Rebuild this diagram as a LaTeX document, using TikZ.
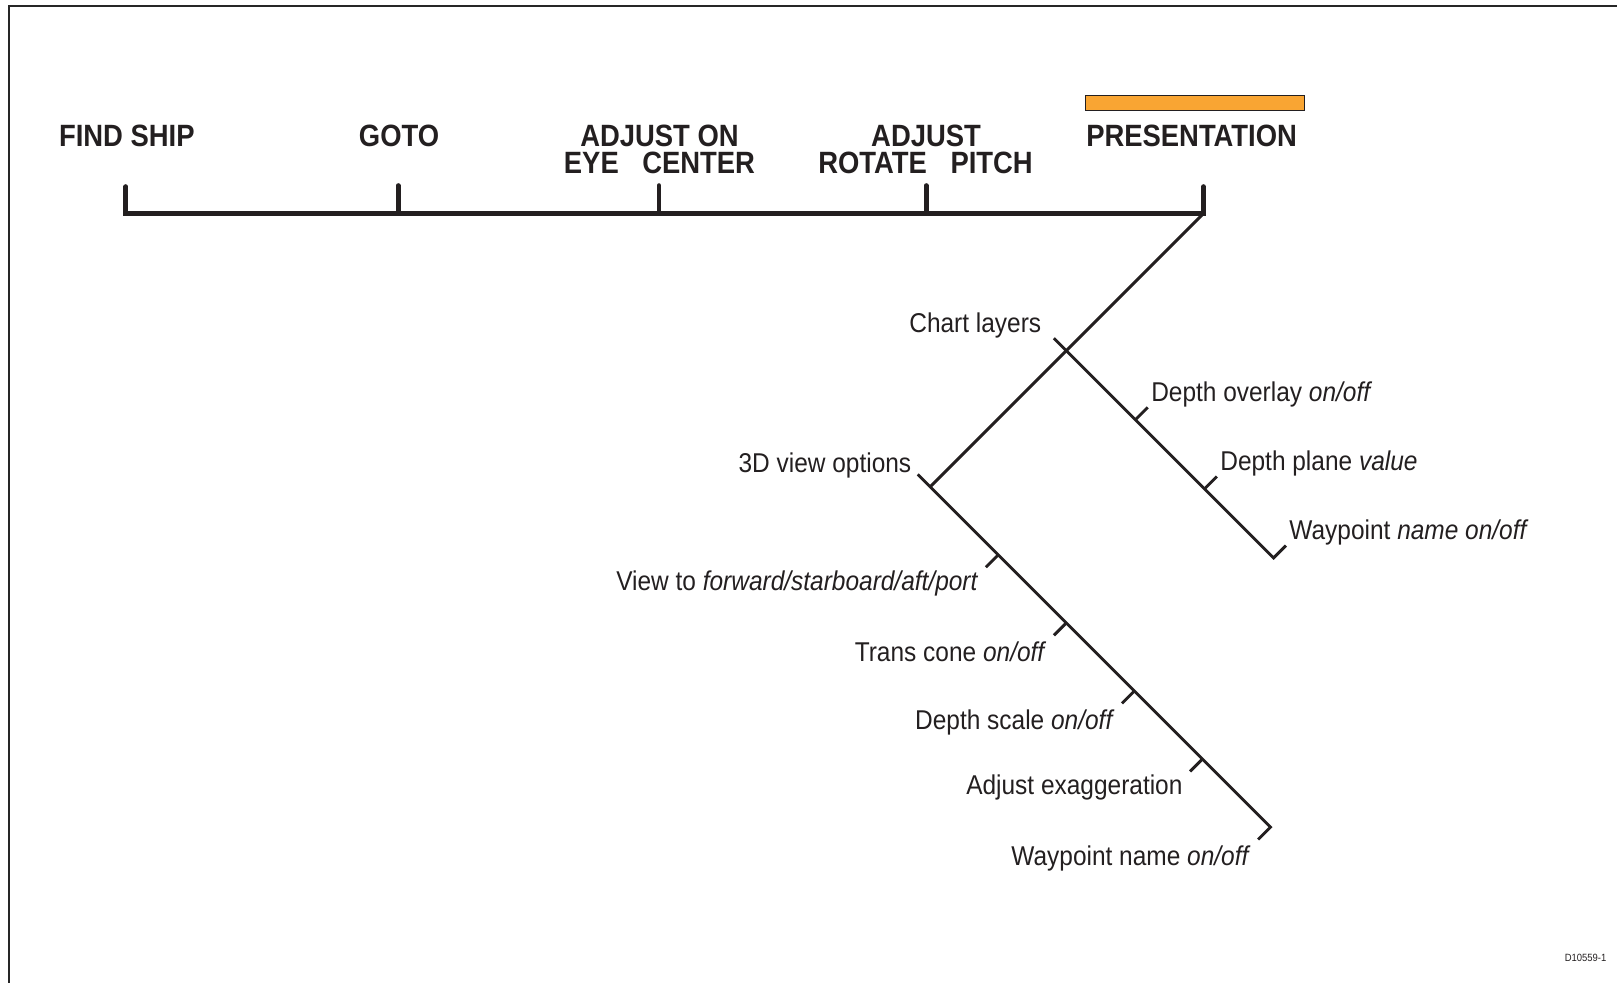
\documentclass[tikz,border=0pt]{standalone}
\usepackage{fontspec}
\setmainfont{Liberation Sans}
\newfontfamily\headfont{Liberation Sans}[FakeStretch=0.89]
\newfontfamily\itemfont{Liberation Sans}[FakeStretch=0.9]
\usepackage{tikz}
\usetikzlibrary{calc}
\usepackage{xcolor}
\definecolor{ink}{HTML}{231F20}
\definecolor{menuOrange}{HTML}{F9A533}

\begin{document}
\begin{tikzpicture}[x=0.02cm, y=-0.02cm,
    bar/.style={ink, line width=2.7pt, line cap=round},
    branch/.style={ink, line width=1.6pt},
    menu/.style={inner sep=0pt, text depth=0pt, text=ink, font=\headfont\bfseries\fontsize{17pt}{20pt}\selectfont},
    item/.style={inner sep=0pt, text=ink, font=\itemfont\fontsize{15pt}{18pt}\selectfont},
    leftitem/.style={item, anchor=base east, shift={(-7,25)}},
    rightitem/.style={item, anchor=base west, shift={(3,-6)}}]
    \useasboundingbox (0,0) rectangle (1568,953);
    % frame
    \draw[black!85, line width=1.1pt] (1568,6) -- (9,6) -- (9,953);

    % top menu bar
    \coordinate (findT) at (122,207);
    \coordinate (gotoT) at (386,207);
    \coordinate (adjustOnT) at (639,207);
    \coordinate (adjustT) at (898,207);
    \coordinate (presT) at (1167,207);
    \draw[bar] ($(findT)+(0,-26)$) -- (findT) -- (presT) -- ($(presT)+(0,-26)$);
    \draw[bar] (gotoT) -- ++(0,-27);
    \draw[bar] (adjustOnT) -- ++(0,-27);
    \draw[bar] (adjustT) -- ++(0,-27);

    \node[menu, anchor=base] (findShip) at (123,142) {FIND SHIP};
    \node[menu, anchor=base] (goto) at (387,142) {GOTO};
    \node[menu, anchor=base] (adjustOn) at (639.5,142) {ADJUST ON};
    \node[menu, anchor=base] (eyeCenter) at (639.5,168) {EYE\hspace{13pt}CENTER};
    \node[menu, anchor=base] (adjust) at (898,142) {ADJUST};
    \node[menu, anchor=base] (rotatePitch) at (897.5,168) {ROTATE\hspace{13pt}PITCH};
    \node[menu, anchor=base west] (presentation) at (1053,142) {PRESENTATION};
    \draw[ink, line width=0.5pt, fill=menuOrange] (1053,93) rectangle (1265,107);

    % presentation menu
    \coordinate (chartJ) at ($(presT)+(-133,133)$);
    \coordinate (viewJ) at ($(presT)+(-265,265)$);
    \draw[branch] (presT) -- (viewJ);

    % chart layers
    \path (chartJ) ++(-12,-12) coordinate (chartEnd);
    \path (chartJ) ++(67,67) coordinate (ovl) ++(12,-12) coordinate (ovlEnd);
    \path (chartJ) ++(134,134) coordinate (pln) ++(12,-12) coordinate (plnEnd);
    \path (chartJ) ++(201,201) coordinate (wpA) ++(12,-12) coordinate (wpAEnd);
    \draw[branch] (chartEnd) -- (wpA) -- (wpAEnd);
    \draw[branch] (ovl) -- (ovlEnd);
    \draw[branch] (pln) -- (plnEnd);
    \node[item, anchor=base east, shift={(-12,-6)}] (chartLayers) at (chartEnd) {Chart layers};
    \node[rightitem] (depthOverlay) at (ovlEnd) {Depth overlay \textit{on/off}};
    \node[rightitem] (depthPlane) at (plnEnd) {Depth plane \textit{value}};
    \node[rightitem] (waypointA) at (wpAEnd) {Waypoint \textit{name on/off}};

    % 3D view options
    \path (viewJ) ++(-12,-12) coordinate (viewEnd);
    \path (viewJ) ++(66,66) coordinate (vto) ++(-12,12) coordinate (vtoEnd);
    \path (viewJ) ++(132,132) coordinate (cone) ++(-12,12) coordinate (coneEnd);
    \path (viewJ) ++(198,198) coordinate (scl) ++(-12,12) coordinate (sclEnd);
    \path (viewJ) ++(264,264) coordinate (exag) ++(-12,12) coordinate (exagEnd);
    \path (viewJ) ++(330,330) coordinate (wpB) ++(-12,12) coordinate (wpBEnd);
    \draw[branch] (viewEnd) -- (wpB) -- (wpBEnd);
    \draw[branch] (vto) -- (vtoEnd);
    \draw[branch] (cone) -- (coneEnd);
    \draw[branch] (scl) -- (sclEnd);
    \draw[branch] (exag) -- (exagEnd);
    \node[item, anchor=base east, shift={(-6,-2)}] (viewOptions) at (viewEnd) {3D view options};
    \node[leftitem, shift={(0,-2)}] (viewTo) at (vtoEnd) {View to \textit{forward/starboard/aft/port}};
    \node[leftitem] (transCone) at (coneEnd) {Trans cone \textit{on/off}};
    \node[leftitem] (depthScale) at (sclEnd) {Depth scale \textit{on/off}};
    \node[leftitem, shift={(0,-3)}] (exaggeration) at (exagEnd) {Adjust exaggeration};
    \node[leftitem] (waypointB) at (wpBEnd) {Waypoint name \textit{on/off}};

    \node[inner sep=0pt, text=ink, anchor=base east, font=\itemfont\fontsize{5.8pt}{7pt}\selectfont] (drawingNo) at (1558,932) {D10559-1};
  \end{tikzpicture}
\end{document}
